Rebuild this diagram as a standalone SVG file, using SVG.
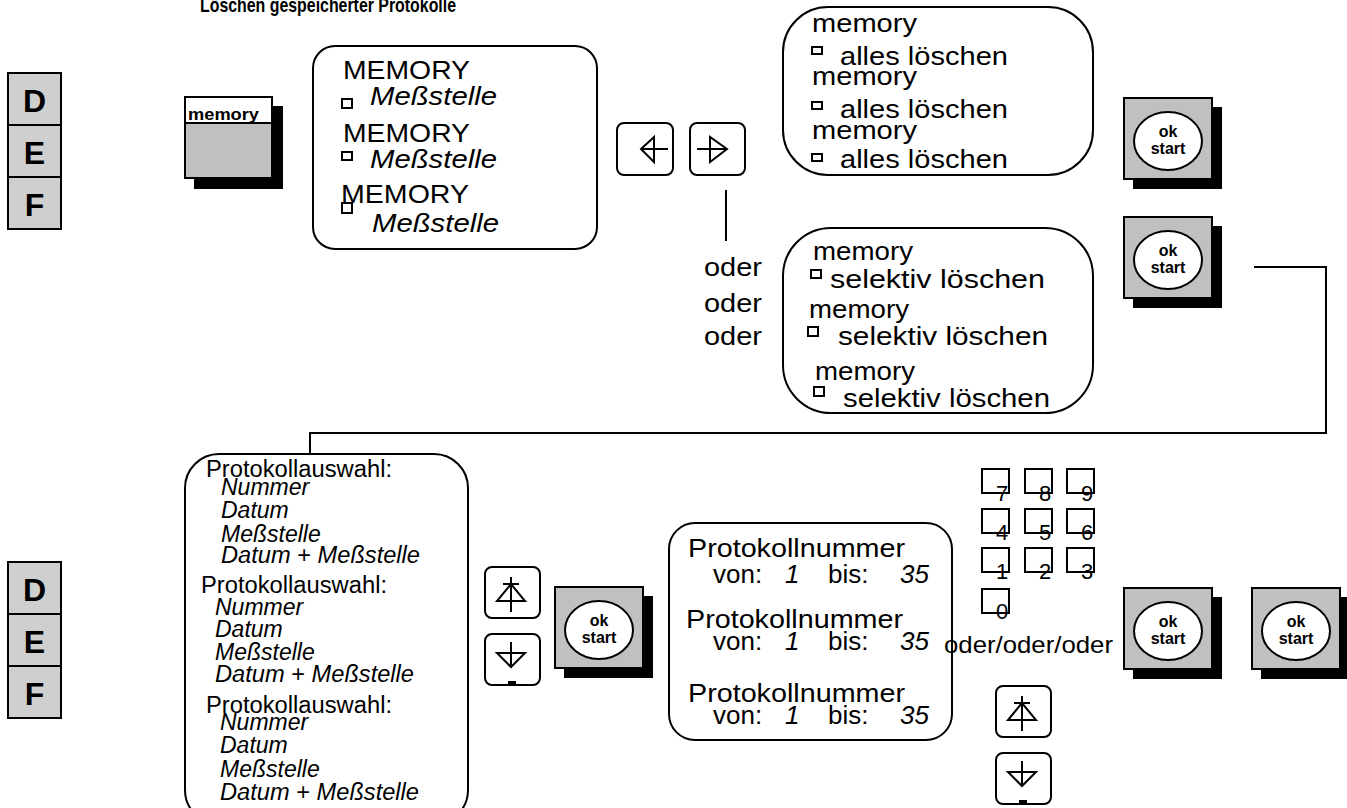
<svg xmlns="http://www.w3.org/2000/svg" xmlns:xlink="http://www.w3.org/1999/xlink" width="1347" height="808" viewBox="0 0 1347 808">
<defs>
<style>
.t{font-family:"Liberation Sans",Arial,Helvetica,sans-serif;fill:#000}
.b{font-weight:bold}
.i{font-style:italic}
.box{fill:#fff;stroke:#000;stroke-width:2}
.ln{fill:none;stroke:#000;stroke-width:2}
.def{fill:#cfcfcf;stroke:#000;stroke-width:2}
.btn{fill:#c0c0c0;stroke:#000;stroke-width:2}
.sh{fill:#000}
.sq{fill:#fff;stroke:#000;stroke-width:2}
.big{font-size:26px}
.mid{font-size:23px}
.dg{font-size:22px}
.defl{font-size:32px;font-weight:bold;text-anchor:middle}
.ok{font-size:16px;font-weight:bold;text-anchor:middle}
</style>
<g id="okbtn">
<rect class="sh" x="9" y="9" width="89" height="82"/>
<rect class="btn" x="0" y="0" width="88" height="81"/>
<ellipse cx="44" cy="43" rx="34" ry="29" fill="#fff" stroke="#000" stroke-width="2"/>
<text class="t ok" x="44" y="39">ok</text>
<text class="t ok" x="44" y="56">start</text>
</g>
<g id="upkey">
<rect class="box" x="0" y="0" width="55" height="51" rx="7"/>
<path class="ln" d="M26 10V45M18 17H34M26 17L12 34H40Z"/>
</g>
<g id="downkey">
<rect class="box" x="0" y="0" width="55" height="51" rx="7"/>
<path class="ln" d="M26 8V33M12 19H40L26 33Z"/>
<rect class="sh" x="23" y="47" width="8" height="4"/>
</g>
<g id="defcol">
<rect class="def" x="0" y="0" width="53" height="52"/>
<rect class="def" x="0" y="52" width="53" height="52"/>
<rect class="def" x="0" y="104" width="53" height="52"/>
<text class="t defl" x="26.5" y="39">D</text>
<text class="t defl" x="26.5" y="91">E</text>
<text class="t defl" x="26.5" y="143">F</text>
</g>
<g id="numkey">
<rect class="sq" x="0" y="0" width="27" height="24"/>
</g>
</defs>

<text id="title" class="t b" x="200" y="12" font-size="21" textLength="256" lengthAdjust="spacingAndGlyphs">Löschen gespeicherter Protokolle</text>

<g id="def-top"><use xlink:href="#defcol" x="8" y="73"/></g>
<g id="def-bottom"><use xlink:href="#defcol" x="8" y="562"/></g>

<g id="connectors">
<path class="ln" d="M726 190V241"/>
<path class="ln" d="M1254 267H1326V433H310V455"/>
</g>

<g id="memory-key">
<rect class="sh" x="194" y="106" width="89" height="83"/>
<rect class="btn" x="185" y="97" width="87" height="81"/>
<rect x="185" y="97" width="87" height="26" fill="#fff" stroke="#000" stroke-width="2"/>
<text class="t b" x="188" y="120" font-size="17" textLength="71" lengthAdjust="spacingAndGlyphs">memory</text>
</g>

<g id="memory-display">
<rect class="box" x="313" y="46" width="284" height="203" rx="22"/>
<text class="t big" x="343" y="79" textLength="127" lengthAdjust="spacingAndGlyphs">MEMORY</text>
<rect class="sq" x="342" y="99" width="10" height="9"/>
<text class="t big i" x="370" y="105" textLength="127" lengthAdjust="spacingAndGlyphs">Meßstelle</text>
<text class="t big" x="343" y="142" textLength="127" lengthAdjust="spacingAndGlyphs">MEMORY</text>
<rect class="sq" x="342" y="152" width="10" height="8"/>
<text class="t big i" x="370" y="168" textLength="127" lengthAdjust="spacingAndGlyphs">Meßstelle</text>
<text class="t big" x="341" y="203" textLength="128" lengthAdjust="spacingAndGlyphs">MEMORY</text>
<rect class="sq" x="342" y="203" width="10" height="10"/>
<text class="t big i" x="372" y="232" textLength="127" lengthAdjust="spacingAndGlyphs">Meßstelle</text>
</g>

<g id="key-left">
<rect class="box" x="617" y="123" width="56" height="52" rx="7"/>
<path class="ln" d="M641 149H668M641 149L654 137V162Z"/>
</g>
<g id="key-right">
<rect class="box" x="690" y="123" width="55" height="52" rx="7"/>
<path class="ln" d="M697 149H727M727 149L710 137V162Z"/>
</g>

<g id="alles-display">
<rect class="box" x="783" y="7" width="310" height="168" rx="45"/>
<text class="t big" x="812" y="32" textLength="105" lengthAdjust="spacingAndGlyphs">memory</text>
<rect class="sq" x="812" y="47" width="10" height="7"/>
<text class="t big" x="840" y="65" textLength="168" lengthAdjust="spacingAndGlyphs">alles löschen</text>
<text class="t big" x="812" y="85" textLength="105" lengthAdjust="spacingAndGlyphs">memory</text>
<rect class="sq" x="812" y="102" width="10" height="7"/>
<text class="t big" x="840" y="118" textLength="168" lengthAdjust="spacingAndGlyphs">alles löschen</text>
<text class="t big" x="812" y="139" textLength="105" lengthAdjust="spacingAndGlyphs">memory</text>
<rect class="sq" x="812" y="154" width="10" height="7"/>
<text class="t big" x="840" y="168" textLength="168" lengthAdjust="spacingAndGlyphs">alles löschen</text>
</g>

<g id="ok-1"><use xlink:href="#okbtn" x="1124" y="98"/></g>
<g id="ok-2"><use xlink:href="#okbtn" x="1124" y="217"/></g>

<g id="oder-labels">
<text class="t big" x="704" y="276" textLength="58" lengthAdjust="spacingAndGlyphs">oder</text>
<text class="t big" x="704" y="312" textLength="58" lengthAdjust="spacingAndGlyphs">oder</text>
<text class="t big" x="704" y="345" textLength="58" lengthAdjust="spacingAndGlyphs">oder</text>
</g>

<g id="selektiv-display">
<rect class="box" x="783" y="228" width="310" height="185" rx="48"/>
<text class="t big" x="813" y="260" textLength="100" lengthAdjust="spacingAndGlyphs">memory</text>
<rect class="sq" x="811" y="270" width="10" height="8"/>
<text class="t big" x="830" y="288" textLength="215" lengthAdjust="spacingAndGlyphs">selektiv löschen</text>
<text class="t big" x="809" y="318" textLength="100" lengthAdjust="spacingAndGlyphs">memory</text>
<rect class="sq" x="808" y="327" width="10" height="9"/>
<text class="t big" x="838" y="345" textLength="210" lengthAdjust="spacingAndGlyphs">selektiv löschen</text>
<text class="t big" x="815" y="380" textLength="100" lengthAdjust="spacingAndGlyphs">memory</text>
<rect class="sq" x="814" y="387" width="10" height="9"/>
<text class="t big" x="843" y="407" textLength="207" lengthAdjust="spacingAndGlyphs">selektiv löschen</text>
</g>

<g id="protokollauswahl-display">
<rect class="box" x="185" y="454" width="283" height="370" rx="34"/>
<text class="t mid" x="206" y="477" textLength="186" lengthAdjust="spacingAndGlyphs">Protokollauswahl:</text>
<text class="t mid i" x="221" y="495">Nummer</text>
<text class="t mid i" x="221" y="518">Datum</text>
<text class="t mid i" x="221" y="542">Meßstelle</text>
<text class="t mid" x="221" y="563" textLength="199" lengthAdjust="spacingAndGlyphs"><tspan class="i">Datum</tspan> + <tspan class="i">Meßstelle</tspan></text>
<text class="t mid" x="201" y="593" textLength="186" lengthAdjust="spacingAndGlyphs">Protokollauswahl:</text>
<text class="t mid i" x="215" y="615">Nummer</text>
<text class="t mid i" x="215" y="637">Datum</text>
<text class="t mid i" x="215" y="660">Meßstelle</text>
<text class="t mid" x="215" y="682" textLength="199" lengthAdjust="spacingAndGlyphs"><tspan class="i">Datum</tspan> + <tspan class="i">Meßstelle</tspan></text>
<text class="t mid" x="206" y="713" textLength="186" lengthAdjust="spacingAndGlyphs">Protokollauswahl:</text>
<text class="t mid i" x="220" y="730">Nummer</text>
<text class="t mid i" x="220" y="753">Datum</text>
<text class="t mid i" x="220" y="777">Meßstelle</text>
<text class="t mid" x="220" y="800" textLength="199" lengthAdjust="spacingAndGlyphs"><tspan class="i">Datum</tspan> + <tspan class="i">Meßstelle</tspan></text>
</g>

<g id="key-up-1"><use xlink:href="#upkey" x="485" y="567"/></g>
<g id="key-down-1"><use xlink:href="#downkey" x="485" y="634"/></g>
<g id="ok-3"><use xlink:href="#okbtn" x="555" y="587"/></g>

<g id="protokollnummer-display">
<rect class="box" x="669" y="523" width="283" height="217" rx="26"/>
<text class="t big" x="688" y="557" textLength="217" lengthAdjust="spacingAndGlyphs">Protokollnummer</text>
<text class="t big" x="713" y="583">von:</text><text class="t big i" x="785" y="583">1</text><text class="t big" x="828" y="583">bis:</text><text class="t big i" x="900" y="583">35</text>
<text class="t big" x="686" y="628" textLength="217" lengthAdjust="spacingAndGlyphs">Protokollnummer</text>
<text class="t big" x="713" y="650">von:</text><text class="t big i" x="785" y="650">1</text><text class="t big" x="828" y="650">bis:</text><text class="t big i" x="900" y="650">35</text>
<text class="t big" x="688" y="702" textLength="217" lengthAdjust="spacingAndGlyphs">Protokollnummer</text>
<text class="t big" x="713" y="724">von:</text><text class="t big i" x="785" y="724">1</text><text class="t big" x="828" y="724">bis:</text><text class="t big i" x="900" y="724">35</text>
</g>

<g id="keypad">
<use xlink:href="#numkey" x="982" y="469"/><use xlink:href="#numkey" x="1025" y="469"/><use xlink:href="#numkey" x="1067" y="469"/>
<use xlink:href="#numkey" x="982" y="509"/><use xlink:href="#numkey" x="1025" y="509"/><use xlink:href="#numkey" x="1067" y="509"/>
<use xlink:href="#numkey" x="982" y="548"/><use xlink:href="#numkey" x="1025" y="548"/><use xlink:href="#numkey" x="1067" y="548"/>
<use xlink:href="#numkey" x="982" y="589"/>
<text class="t dg" x="996" y="501">7</text><text class="t dg" x="1039" y="501">8</text><text class="t dg" x="1081" y="501">9</text>
<text class="t dg" x="996" y="540">4</text><text class="t dg" x="1039" y="540">5</text><text class="t dg" x="1081" y="540">6</text>
<text class="t dg" x="996" y="579">1</text><text class="t dg" x="1039" y="579">2</text><text class="t dg" x="1081" y="579">3</text>
<text class="t dg" x="996" y="619">0</text>
</g>

<text id="oder-oder" class="t" x="944" y="653" font-size="24" textLength="169" lengthAdjust="spacingAndGlyphs">oder/oder/oder</text>

<g id="ok-4"><use xlink:href="#okbtn" x="1124" y="588"/></g>
<g id="ok-5"><use xlink:href="#okbtn" x="1252" y="588"/></g>

<g id="key-up-2"><use xlink:href="#upkey" x="996" y="686"/></g>
<g id="key-down-2"><use xlink:href="#downkey" x="996" y="753"/></g>
</svg>
